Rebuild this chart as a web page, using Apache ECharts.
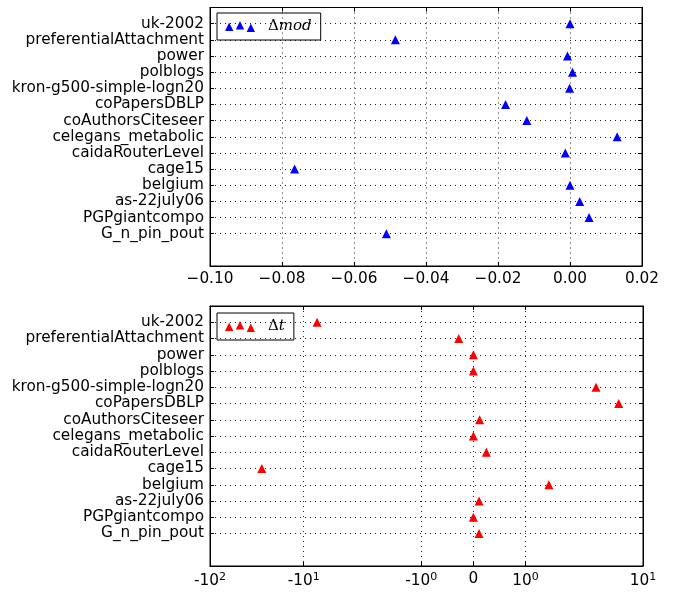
<!DOCTYPE html>
<html>
<head>
<meta charset="utf-8">
<script src="https://cdn.jsdelivr.net/npm/echarts@6/dist/echarts.min.js"></script>
<style>
  html, body { margin: 0; padding: 0; background: #fff; }
  #chart { width: 674px; height: 593px; }
</style>
</head>
<body>
<div id="chart"></div>
<script>
// datasets, top to bottom as in the picture
const datasets = [
  'uk-2002', 'preferentialAttachment', 'power', 'polblogs', 'kron-g500-simple-logn20',
  'coPapersDBLP', 'coAuthorsCiteseer', 'celegans_metabolic', 'caidaRouterLevel', 'cage15',
  'belgium', 'as-22july06', 'PGPgiantcompo', 'G_n_pin_pout'
];
const deltaMod = [
  0.0000, -0.0485, -0.0007, 0.0007, -0.0001,
  -0.0179, -0.0120, 0.0131, -0.0013, -0.0765,
  0.0000, 0.0027, 0.0053, -0.0510
];
const deltaT = [
  -7.2, -0.28, 0.0, 0.0, 3.15,
  5.5, 0.12, 0.0, 0.25, -28.0,
  1.45, 0.11, 0.0, 0.11
];
const modTicks = [-0.10, -0.08, -0.06, -0.04, -0.02, 0.00, 0.02];
const tTicks = [-100, -10, -1, 0, 1, 10];
const tTickLabels = ['-10{s|2}', '-10{s|1}', '-10{s|0}', '0', '10{s|0}', '10{s|1}'];

// symlog scale, linthresh 2, linscale 1 (like the matplotlib one)
const LINTHRESH = 2;
const ADJ = 1 / (1 - 1 / 10);
function symlog(v) {
  const a = Math.abs(v);
  if (a <= LINTHRESH) return v * ADJ;
  return Math.sign(v) * LINTHRESH * (ADJ + Math.log10(a / LINTHRESH));
}

// category rows: two empty rows at the bottom, one at the top
const yCats = [' ', '  '].concat(datasets.slice().reverse(), ['   ']);
const rowOf = i => 15 - i;

const FONT = 'DejaVu Sans';
const FS = 15.3;
const TRI_PATH = 'path://M0,11L4.25,2.5L8.5,11Z M11,9.5L15.25,1L19.5,9.5Z M22,12L26.25,3.5L30.5,12Z';
const dotted = { show: true, lineStyle: { color: '#222', width: 1, type: [1, 4] } };
const blackLine = { show: true, onZero: false, lineStyle: { color: '#000', width: 1 } };

function yAxes(gridIndex) {
  const base = {
    type: 'category', gridIndex: gridIndex, data: yCats, boundaryGap: false,
    axisLine: blackLine,
    axisTick: { show: true, inside: true, length: 4, interval: (i, v) => v.trim() !== '', lineStyle: { color: '#000' } }
  };
  return [
    Object.assign({}, base, {
      position: 'left',
      axisLabel: { interval: 0, color: '#000', fontFamily: FONT, fontSize: FS, margin: 6 },
      splitLine: Object.assign({ interval: (i, v) => v.trim() !== '' }, dotted)
    }),
    Object.assign({}, base, {
      position: 'right',
      axisLabel: { show: false },
      splitLine: { show: false }
    })
  ];
}

const modMin = -0.10, modMax = 0.02;
const tMin = symlog(-100), tMax = symlog(10);
const tCustom = tTicks.map(symlog);
const tLabel = v => {
  let k = 0;
  tCustom.forEach((c, j) => { if (Math.abs(c - v) < Math.abs(tCustom[k] - v)) k = j; });
  return tTickLabels[k];
};

function legendFor(name, top, sub) {
  return {
    left: 217, top: top, selectedMode: false,
    data: [{ name: name, icon: TRI_PATH }],
    itemWidth: 30, itemHeight: 12,
    itemStyle: { borderWidth: 0 },
    borderColor: '#000', borderWidth: 1, borderRadius: 0, padding: [6, 9, 6, 8],
    formatter: () => '{d|\u0394}{m|' + sub + '}',
    textStyle: {
      rich: {
        d: { fontFamily: 'DejaVu Serif', fontSize: 15, color: '#000', padding: [0, 0, 0, 8] },
        m: { fontFamily: 'DejaVu Serif', fontStyle: 'italic', fontSize: 15, color: '#000' }
      }
    }
  };
}

const chart = echarts.init(document.getElementById('chart'));
chart.setOption({
  animation: false,
  backgroundColor: '#fff',
  grid: [
    { left: 210, top: 6, width: 432, height: 260, show: true, borderColor: '#000', borderWidth: 1, containLabel: false },
    { left: 210, top: 306, width: 433, height: 260, show: true, borderColor: '#000', borderWidth: 1, containLabel: false }
  ],
  xAxis: [
    {
      type: 'value', gridIndex: 0, position: 'bottom', min: modMin, max: modMax, interval: 0.02,
      axisLine: blackLine,
      axisTick: { show: true, inside: true, length: 4, lineStyle: { color: '#000' } },
      axisLabel: {
        color: '#000', fontFamily: FONT, fontSize: FS, margin: 6,
        formatter: v => (v < -1e-9 ? '\u2212' : '') + Math.abs(v).toFixed(2)
      },
      splitLine: dotted
    },
    {
      type: 'value', gridIndex: 0, position: 'top', min: modMin, max: modMax, interval: 0.02,
      axisLine: blackLine,
      axisTick: { show: true, inside: true, length: 4, lineStyle: { color: '#000' } },
      axisLabel: { show: false }, splitLine: { show: false }
    },
    {
      type: 'value', gridIndex: 1, position: 'bottom', min: tMin, max: tMax,
      axisLine: blackLine,
      axisTick: { show: true, inside: true, length: 4, customValues: tCustom, lineStyle: { color: '#000' } },
      axisLabel: {
        color: '#000', fontFamily: FONT, fontSize: FS, margin: 6, customValues: tCustom,
        formatter: tLabel,
        rich: { s: { fontFamily: FONT, fontSize: 11, verticalAlign: 'top', padding: [0, 0, 7, 0] } }
      },
      splitLine: dotted
    },
    {
      type: 'value', gridIndex: 1, position: 'top', min: tMin, max: tMax,
      axisLine: blackLine,
      axisTick: { show: true, inside: true, length: 4, customValues: tCustom, lineStyle: { color: '#000' } },
      axisLabel: { show: false }, splitLine: { show: false }
    }
  ],
  yAxis: yAxes(0).concat(yAxes(1)),
  legend: [legendFor('dmod', 13, 'mod'), legendFor('dt', 313, 't')],
  series: [
    {
      name: 'dmod', type: 'scatter', xAxisIndex: 0, yAxisIndex: 0,
      symbol: 'triangle', symbolSize: [9, 9],
      itemStyle: { color: '#0000ff', opacity: 1 },
      data: deltaMod.map((v, i) => [v, rowOf(i)])
    },
    {
      name: 'dt', type: 'scatter', xAxisIndex: 2, yAxisIndex: 2,
      symbol: 'triangle', symbolSize: [9, 9],
      itemStyle: { color: '#ff0000', opacity: 1 },
      data: deltaT.map((v, i) => [symlog(v), rowOf(i)])
    }
  ]
});
</script>
</body>
</html>
